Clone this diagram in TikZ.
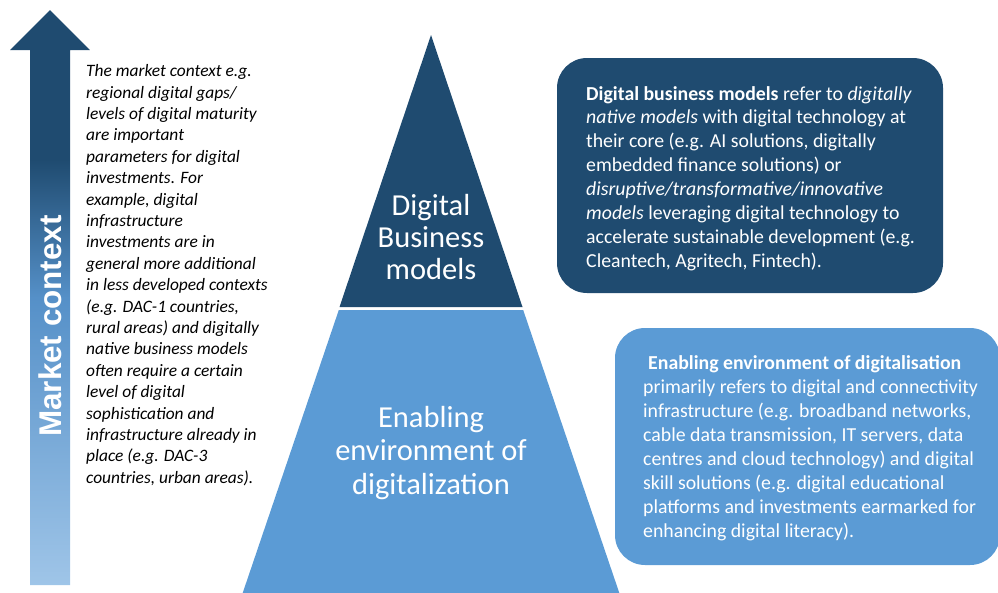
\documentclass[tikz,border=0pt]{standalone}
\usepackage{fontspec}
\setmainfont{Carlito}
\newfontfamily\arialbold{Liberation Sans}[BoldFont=* Bold]
\definecolor{navy}{HTML}{1F4B70}
\definecolor{skyblue}{HTML}{5B9BD5}
\definecolor{paleblue}{HTML}{9FC5E8}
\definecolor{midblue}{HTML}{5590C8}
\pgfdeclareverticalshading{ctxshade}{100bp}{color(0bp)=(paleblue); color(25bp)=(paleblue); color(50bp)=(midblue); color(62bp)=(navy); color(100bp)=(navy)}
\begin{document}
\begin{tikzpicture}[x=1pt,y=-1pt,
  bodytext/.style={inner sep=0pt, align=left, anchor=north west},
  infobox/.style={rounded corners=30pt},
  tiertext/.style={text=white, align=center, inner sep=0pt}]
\useasboundingbox (0,0) rectangle (998,592);

% upward arrow for the market context
\shade[shading=ctxshade] (30,585) -- (30,50) -- (10,50) -- (50,10) -- (90,50) -- (70,50) -- (70,585) -- cycle;
\node[rotate=90, text=white, inner sep=0pt, font=\arialbold\bfseries\fontsize{31.4}{34}\selectfont] (ctx) at (50,326)
  {Market context};

% explanation beside the arrow
\node[bodytext, font=\itshape\fontsize{17.4}{21.4}\selectfont] (ctxnote) at (86,64.4) {%
The market context e.g.\\
regional digital gaps/\\
levels of digital maturity\\
are important\\
parameters for digital\\
investments. For\\
example, digital\\
infrastructure\\
investments are in\\
general more additional\\
in less developed contexts\\
(e.g. DAC-1 countries,\\
rural areas) and digitally\\
native business models\\
often require a certain\\
level of digital\\
sophistication and\\
infrastructure already in\\
place (e.g. DAC-3\\
countries, urban areas).};

% two-tier pyramid
\fill[navy] (431,35) -- (522.5,307) -- (339.5,307) -- cycle;
\fill[skyblue] (338.8,310) -- (523.2,310) -- (620,595) -- (242,595) -- cycle;
\node[tiertext, font=\fontsize{30.5}{31.7}\selectfont] (top) at (431,237) {Digital\\Business\\models};
\node[tiertext, font=\fontsize{30.5}{33.5}\selectfont] (base) at (431,453) {Enabling\\environment of\\digitalization};

% description boxes
\fill[navy, infobox] (557,58) rectangle (943,293);
\node[bodytext, text=white, font=\fontsize{19.8}{23.9}\selectfont] (topnote) at (586,86) {%
\textbf{Digital business models} refer to \textit{digitally}\\
\textit{native models} with digital technology at\\
their core (e.g. AI solutions, digitally\\
embedded finance solutions) or\\
\textit{disruptive/transformative/innovative}\\
\textit{models} leveraging digital technology to\\
accelerate sustainable development (e.g.\\
Cleantech, Agritech, Fintech).};

\fill[skyblue, infobox] (615,328) rectangle (1000,565);
\node[bodytext, text=white, font=\fontsize{19.8}{24}\selectfont] (basenote) at (643,355) {%
\hspace*{5pt}\textbf{Enabling environment of digitalisation}\\
primarily refers to digital and connectivity\\
infrastructure (e.g. broadband networks,\\
cable data transmission, IT servers, data\\
centres and cloud technology) and digital\\
skill solutions (e.g. digital educational\\
platforms and investments earmarked for\\
enhancing digital literacy).};
\end{tikzpicture}
\end{document}
